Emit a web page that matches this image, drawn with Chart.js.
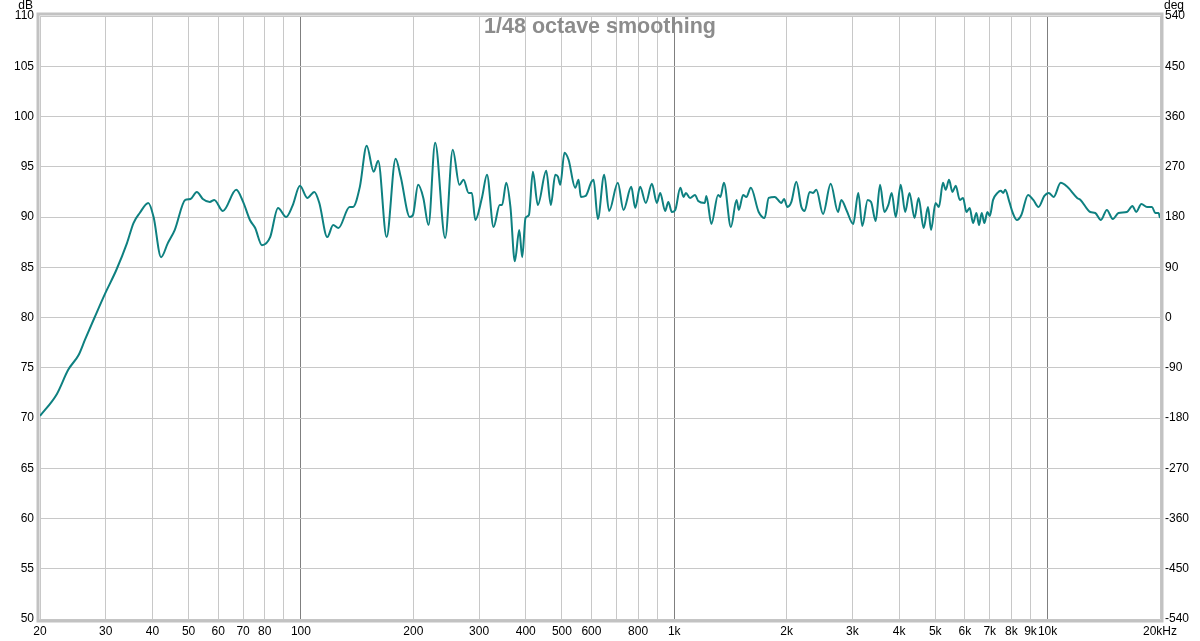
<!DOCTYPE html>
<html>
<head>
<meta charset="utf-8">
<script src="https://cdn.jsdelivr.net/npm/chart.js@4.4.1/dist/chart.umd.min.js"></script>
<style>
  html, body { margin: 0; padding: 0; background: #fff; }
  #wrap { width: 1200px; height: 641px; }
</style>
</head>
<body>
<div id="wrap"><canvas id="fr" width="1200" height="641"></canvas></div>
<script>
// Frequency response (Hz / dB SPL)
const freqHz = [
  20, 22.2, 23.8, 25.4, 26.4, 28.0, 29.9, 32.0, 34.2, 35.6, 37.0, 39.0, 40.3, 42.2, 44.0, 45.9,
  49.0, 50.6, 52.6, 54.6, 57.0, 58.6, 61.8, 67.1, 70.0, 73.0, 75.4, 78.6, 82.7, 86.8, 91.3, 94.9,
  99.4, 104, 108.6, 112, 117.6, 122, 126, 135, 137.8, 143.8, 150, 156.6, 161, 169.6, 179.3, 185,
  195.7, 199.5, 206, 212.7, 219.6, 228.8, 243.4, 255, 265.8, 272.6, 281.2, 287, 293, 305.7, 315,
  328, 340.7, 345.8, 354.7, 364, 374, 384.4, 391.5, 399.5, 408, 418, 431, 454, 467, 480, 488, 495,
  508, 521, 543, 554, 562, 579, 600, 608, 624, 649, 669, 706, 731, 767, 786, 810, 839, 871, 898,
  917, 945, 964, 985, 1006, 1038, 1059, 1074, 1102, 1136, 1159, 1207, 1219, 1257, 1310, 1329, 1358,
  1418, 1468, 1489, 1529, 1560, 1603, 1683, 1746, 1790, 1858, 1936, 1968, 2009, 2059, 2123, 2190,
  2235, 2305, 2353, 2401, 2503, 2624, 2745, 2802, 2891, 3015, 3111, 3189, 3296, 3366, 3463, 3558,
  3654, 3745, 3823, 3919, 4042, 4154, 4266, 4401, 4512, 4655, 4782, 4873, 5010, 5115, 5244, 5334,
  5444, 5558, 5674, 5818, 5937, 6059, 6184, 6314, 6446, 6551, 6660, 6770, 6898, 6998, 7144, 7342,
  7494, 7605, 7700, 7899, 8067, 8268, 8504, 8863, 9154, 9452, 9800, 10070, 10380, 10840, 11290,
  12000, 12250, 13010, 13420, 13890, 14410, 14950, 15480, 16310, 16870, 17270, 17830, 18460, 19040,
  19420, 19830, 20000
];
const splDb = [
  70.2, 72.4, 74.8, 76.3, 77.8, 80.0, 82.4, 84.7, 87.4, 89.4, 90.4, 91.4, 90.0, 86.0, 87.4, 88.7,
  91.7, 91.8, 92.5, 91.8, 91.5, 91.7, 90.6, 92.7, 91.5, 89.7, 88.9, 87.2, 88.0, 90.9, 90.0, 91.1,
  93.1, 91.9, 92.5, 91.4, 88.0, 89.2, 88.9, 91.0, 91.0, 93.0, 97.1, 94.5, 95.6, 88.0, 95.8, 94.0,
  90.0, 90.2, 93.2, 91.9, 89.2, 97.4, 87.9, 96.7, 93.2, 93.7, 92.4, 92.4, 89.7, 92.0, 94.2,
  89.0, 91.2, 91.2, 93.4, 91.0, 85.6, 88.7, 86.0, 89.9, 90.2, 94.5, 91.2, 94.6, 91.2, 94.2, 94.0, 93.2,
  96.4, 95.7, 92.9, 93.7, 92.0, 92.1, 93.5, 93.7, 89.8, 94.2, 90.6, 93.4, 90.7, 93.0, 90.9, 93.0, 91.4, 93.3, 91.4,
  92.4, 90.6, 91.5, 90.5, 90.7, 92.9, 92.0, 92.4, 91.9, 92.2, 91.6, 91.4, 92.1, 89.3, 92.2, 92.0, 93.4,
  89.0, 91.7, 90.7, 92.2, 92.0, 92.9, 90.5, 89.9, 91.9, 92.0, 91.4, 91.8, 91.0, 91.5, 93.5, 91.0,
  90.6, 92.5, 92.4, 92.7, 90.3, 93.3, 90.5, 91.7, 90.7, 89.3, 92.4, 89.1, 91.7, 91.5, 89.6, 93.2,
  90.5, 91.2, 92.4, 90.0, 93.2, 90.5, 92.4, 89.9, 91.9, 88.9, 91.0, 88.7, 91.4, 91.0, 93.4, 92.7,
  93.7, 92.5, 93.1, 91.7, 91.9, 90.5, 90.9, 89.4, 90.4, 89.2, 90.4, 89.4, 90.5, 90.1, 91.7, 92.4,
  92.6, 92.4, 92.7, 91.5, 90.4, 89.7, 90.2, 92.2, 91.7, 91.0, 92.1, 92.4, 92.0, 93.4, 93.0,
  91.9, 91.7, 90.5, 90.4, 89.7, 90.7, 89.8, 90.4, 90.5, 91.1, 90.5, 91.3, 91.0, 91.0,
  90.4, 90.4, 89.9
];

// Frequency grid lines and their labels ('' = line without label)
const xTickValues = [20, 30, 40, 50, 60, 70, 80, 90, 100, 200, 300, 400, 500, 600, 700, 800, 900,
  1000, 2000, 3000, 4000, 5000, 6000, 7000, 8000, 9000, 10000, 20000];
const xTickLabels = ['20', '30', '40', '50', '60', '70', '80', '', '100', '200', '300', '400', '500', '600', '', '800', '',
  '1k', '2k', '3k', '4k', '5k', '6k', '7k', '8k', '9k', '10k', '20kHz'];
const decadeLines = [100, 1000, 10000];

const FONT = '"Liberation Sans", Arial, sans-serif';
const TICK_SIZE = 12;

// Frame, axis unit captions and smoothing caption
const overlay = {
  id: 'overlay',
  afterDraw(chart) {
    const { ctx, chartArea: a } = chart;
    ctx.save();
    ctx.strokeStyle = '#c2c2c2';
    ctx.lineWidth = 3;
    ctx.strokeRect(a.left - 2, a.top - 2, a.right - a.left + 4, a.bottom - a.top + 4);

    ctx.fillStyle = '#000';
    ctx.font = TICK_SIZE + 'px ' + FONT;
    ctx.textBaseline = 'middle';
    ctx.textAlign = 'right';
    ctx.fillText('dB', 33, 6);
    ctx.textAlign = 'left';
    ctx.fillText('deg', 1164, 6);

    ctx.fillStyle = '#8c8c8c';
    ctx.font = 'bold 21.5px ' + FONT;
    ctx.textAlign = 'center';
    ctx.fillText('1/48 octave smoothing', 600, 27);
    ctx.restore();
  }
};

new Chart(document.getElementById('fr'), {
  type: 'line',
  data: {
    datasets: [{
      data: freqHz.map((f, i) => ({ x: f, y: splDb[i] })),
      borderColor: '#0e8080',
      borderWidth: 2,
      pointRadius: 0,
      cubicInterpolationMode: 'monotone',
      fill: false,
    }],
  },
  options: {
    responsive: false,
    animation: false,
    devicePixelRatio: 1,
    layout: { padding: { top: 16, left: 0, right: 0, bottom: 0 } },
    plugins: { legend: { display: false }, tooltip: { enabled: false } },
    scales: {
      x: {
        type: 'logarithmic',
        min: 20,
        max: 20000,
        afterBuildTicks: (axis) => { axis.ticks = xTickValues.map(v => ({ value: v })); },
        afterFit: (axis) => { axis.height = 22; },
        grid: {
          color: (c) => decadeLines.includes(c.tick && c.tick.value) ? '#7f7f7f' : '#c8c8c8',
          drawTicks: false,
        },
        border: { display: false },
        ticks: {
          autoSkip: false,
          maxRotation: 0,
          padding: 5,
          color: '#000',
          font: { family: FONT, size: TICK_SIZE },
          callback: (v) => {
            const i = xTickValues.indexOf(v);
            return i >= 0 ? xTickLabels[i] : '';
          },
        },
      },
      y: {
        position: 'left',
        min: 50,
        max: 110,
        afterFit: (axis) => { axis.width = 40; },
        grid: { color: '#c8c8c8', drawTicks: false },
        border: { display: false },
        ticks: { stepSize: 5, autoSkip: false, padding: 6, color: '#000', font: { family: FONT, size: TICK_SIZE } },
      },
      y2: {
        position: 'right',
        min: -540,
        max: 540,
        afterFit: (axis) => { axis.width = 40; },
        grid: { display: false, drawTicks: false },
        border: { display: false },
        ticks: { stepSize: 90, autoSkip: false, padding: 5, color: '#000', font: { family: FONT, size: TICK_SIZE } },
      },
    },
  },
  plugins: [overlay],
});
</script>
</body>
</html>
